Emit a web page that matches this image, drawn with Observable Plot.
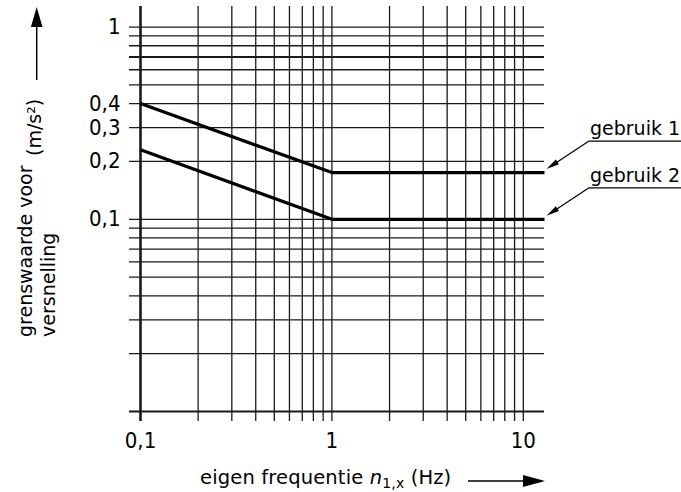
<!DOCTYPE html>
<html><head><meta charset="utf-8">
<script src="https://cdn.jsdelivr.net/npm/d3@7"></script>
<script src="https://cdn.jsdelivr.net/npm/@observablehq/plot@0.6"></script>
<style>
html,body{margin:0;padding:0;background:#fff;}
#chart svg{display:block;}
</style></head><body><div id="chart"></div>
<script>
// ---- data ----
const freq = [0.1, 1, 12.9];                 // eigen frequentie (Hz)
const gebruik1 = [0.4, 0.175, 0.175];        // m/s²
const gebruik2 = [0.23, 0.1, 0.1];           // m/s²
const seriesNames = ["gebruik 1", "gebruik 2"];
const xGrid = [0.1,0.2,0.3,0.4,0.5,0.6,0.7,0.8,0.9,1,2,3,4,5,6,7,8,9,10];
const yGrid = [0.01,0.02,0.03,0.04,0.05,0.06,0.07,0.08,0.09,0.1,0.2,0.3,0.4,0.5,0.6,0.7,0.8,0.9,1];
const xTickLabels = [0.1, 1, 10];
const yTickLabels = [0.1, 0.2, 0.3, 0.4, 1];
const emphasizedY = [0.7];
const xDomain = [0.1, 12.9];
const yDomain = [0.01, 1.28];
const yTitleLines = ["grenswaarde voor", "versnelling"];
const yUnit = "(m/s²)";

// ---- build ----
const rows = [];
freq.forEach((f, i) => {
  rows.push({f, v: gebruik1[i], s: seriesNames[0]});
  rows.push({f, v: gebruik2[i], s: seriesNames[1]});
});
const fmt = (labels) => d => labels.includes(d) ? String(d).replace(".", ",") : "";
const FONT = "'DejaVu Sans', sans-serif";
const TICKFONT = "'Liberation Sans Narrow', 'DejaVu Sans Condensed', 'DejaVu Sans', sans-serif";

const chart = Plot.plot({
  width: 681, height: 492,
  marginLeft: 140, marginRight: 137, marginTop: 6, marginBottom: 81,
  x: {type: "log", domain: xDomain},
  y: {type: "log", domain: yDomain},
  style: {fontFamily: TICKFONT, fontSize: "22px", color: "#000", background: "#fff"},
  marks: [
    Plot.ruleX(xGrid, {stroke: "#1a1a1a", strokeWidth: d => d === xDomain[0] ? 2.6 : 1.3, insetBottom: -10}),
    Plot.ruleY(yGrid, {stroke: "#1a1a1a", strokeWidth: d => d === yDomain[0] ? 2 : (emphasizedY.includes(d) ? 2 : 1.3), insetLeft: -11}),
    Plot.axisX({ticks: xGrid, tickSize: 0, tickPadding: 21, tickFormat: fmt(xTickLabels), label: null}),
    Plot.axisY({ticks: yGrid, tickSize: 0, tickPadding: 20, tickFormat: fmt(yTickLabels), label: null}),
    Plot.line(rows, {x: "f", y: "v", z: "s", stroke: "#000", strokeWidth: 3.2, strokeLinecap: "butt"})
  ]
});
document.getElementById("chart").appendChild(chart);

const svg = d3.select(chart);
const X = chart.scale("x"), Y = chart.scale("y");
const ann = svg.append("g").attr("font-family", FONT).attr("font-size", 19).attr("fill", "#000").attr("text-anchor", "start");

function arrowHead(g, sx, sy, tx, ty, len, half) {
  const dx = tx - sx, dy = ty - sy, L = Math.hypot(dx, dy);
  const ux = dx / L, uy = dy / L;
  const bx = tx - ux * len, by = ty - uy * len;
  g.append("polygon")
    .attr("points", [[tx, ty], [bx - uy * half, by + ux * half], [bx + uy * half, by - ux * half]].map(p => p.join(",")).join(" "))
    .attr("fill", "#000");
}

// series labels with leaders
const xe = X.apply(freq[freq.length - 1]);
[[gebruik1, seriesNames[0]], [gebruik2, seriesNames[1]]].forEach(([vals, name]) => {
  const ye = Y.apply(vals[vals.length - 1]);
  const sx = xe + 45, sy = ye - 31, tx = xe + 2.5, ty = ye - 3;
  ann.append("line").attr("x1", sx).attr("y1", sy).attr("x2", 681).attr("y2", sy).attr("stroke", "#000").attr("stroke-width", 1.2);
  ann.append("line").attr("x1", sx).attr("y1", sy).attr("x2", tx + (sx - tx) * 0.2).attr("y2", ty + (sy - ty) * 0.2).attr("stroke", "#000").attr("stroke-width", 1.2);
  arrowHead(ann, sx, sy, tx, ty, 13, 2.8);
  ann.append("text").attr("x", sx + 1).attr("y", sy - 6).text(name);
});

// y axis title
const yt = ann.append("g");
yt.append("text").attr("transform", "translate(31.5,337) rotate(-90)").text(yTitleLines[0]);
yt.append("text").attr("transform", "translate(54.5,337) rotate(-90)").text(yTitleLines[1]);
yt.append("text").attr("transform", "translate(40.5,156) rotate(-90)").text(yUnit);
yt.append("line").attr("x1", 36.7).attr("x2", 36.7).attr("y1", 80).attr("y2", 24).attr("stroke", "#000").attr("stroke-width", 1.5);
arrowHead(yt, 36.7, 80, 36.7, 7, 20, 5.8);

// x axis title
const xtText = ann.append("text").attr("x", 200).attr("y", 484).attr("font-size", 19.5).attr("letter-spacing", 0.15);
xtText.append("tspan").text("eigen frequentie ");
xtText.append("tspan").attr("font-style", "italic").text("n");
xtText.append("tspan").attr("font-size", 14).attr("dy", 4).text("1,x");
xtText.append("tspan").attr("dy", -4).text(" (Hz)");
ann.append("line").attr("x1", 468).attr("x2", 526).attr("y1", 481).attr("y2", 481).attr("stroke", "#000").attr("stroke-width", 1.5);
arrowHead(ann, 468, 481, 545, 481, 22, 6);
</script></body></html>
